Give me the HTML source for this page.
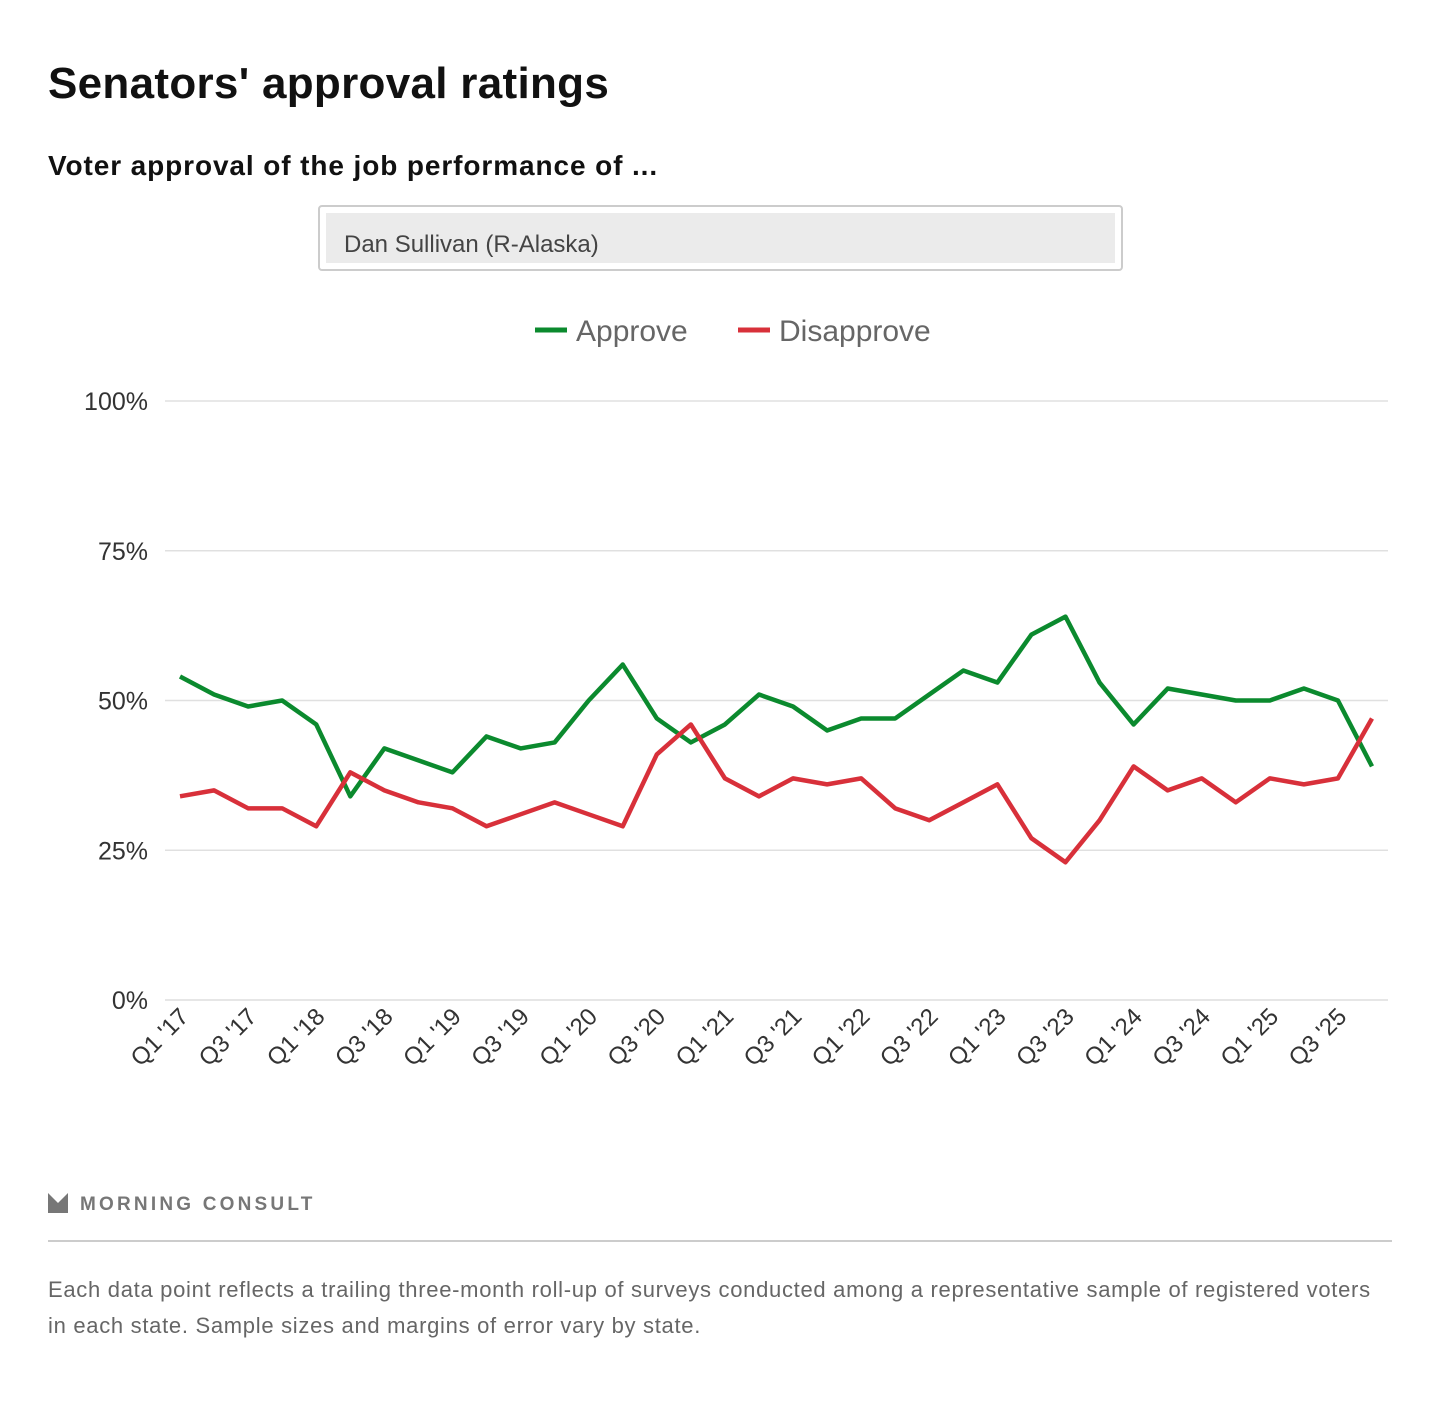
<!DOCTYPE html>
<html><head><meta charset="utf-8"><style>
body{margin:0;background:#fff;font-family:"Liberation Sans",sans-serif;}
#wrap{position:relative;width:1440px;height:1412px;}
h1{position:absolute;left:48px;top:59px;margin:0;font-size:44px;font-weight:bold;color:#111;letter-spacing:0.3px;}
h2{position:absolute;left:48px;top:150px;margin:0;font-size:28px;font-weight:bold;color:#111;letter-spacing:0.9px;}
.sel{position:absolute;left:318px;top:205px;width:805px;height:66px;border:2px solid #ccc;border-radius:4px;box-sizing:border-box;}
.sel div{position:absolute;left:6px;top:6px;right:6px;bottom:6px;background:#ebebeb;font-size:24px;color:#444;padding:18px 0 0 18px;box-sizing:border-box;}
.foot{position:absolute;left:48px;top:1272px;width:1335px;font-size:22px;letter-spacing:0.7px;line-height:36px;color:#666;}
</style></head><body><div id="wrap">
<h1>Senators' approval ratings</h1>
<h2>Voter approval of the job performance of ...</h2>
<div class="sel"><div>Dan Sullivan (R-Alaska)</div></div>
<svg id="chart" width="1440" height="1412" style="position:absolute;left:0;top:0"></svg>
<div style="position:absolute;left:48px;top:1240px;width:1344px;height:2px;background:#ccc"></div>
<div class="foot">Each data point reflects a trailing three-month roll-up of surveys conducted among a representative sample of registered voters in each state. Sample sizes and margins of error vary by state.</div>
</div>
<script>
const quarters=[];for(let y=17;y<=25;y++)for(let q=1;q<=4;q++)quarters.push("Q"+q+" '"+y);
const approve=[54,51,49,50,46,34,42,40,38,44,42,43,50,56,47,43,46,51,49,45,47,47,51,55,53,61,64,53,46,52,51,50,50,52,50,39];
const disapprove=[34,35,32,32,29,38,35,33,32,29,31,33,31,29,41,46,37,34,37,36,37,32,30,33,36,27,23,30,39,35,37,33,37,36,37,47];
const yTicks=[0,25,50,75,100];
const NS="http://www.w3.org/2000/svg",svg=document.getElementById('chart');
const x=i=>180+i*(1372-180)/35, y=v=>1000-v*5.99;
function mk(t,a,p){const e=document.createElementNS(NS,t);for(const k in a)e.setAttribute(k,a[k]);(p||svg).appendChild(e);return e;}
yTicks.forEach(v=>{
 const l=mk('line',{x1:165,x2:1388,y1:y(v),y2:y(v),stroke:v?'#e0e0e0':'#ddd','stroke-width':1.5});
 
 
 const t=mk('text',{x:148,y:y(v)+9,'text-anchor':'end','font-size':25,fill:'#333'});t.textContent=v+'%';
 
 
});
quarters.forEach((q,i)=>{if(i%2||i>=35)return;
 const t=mk('text',{transform:`translate(${x(i)+10},${1018}) rotate(-45)`,'text-anchor':'end','font-size':24,fill:'#333'});t.textContent=q;
 
 
});
[[approve,'#0b8a2e','approve'],[disapprove,'#d8303a','disapprove']].forEach(([d,c,n])=>{
 const p=mk('path',{d:d.map((v,i)=>(i?'L':'M')+x(i)+','+y(v)).join(''),fill:'none',stroke:c,'stroke-width':4.5,'stroke-linejoin':'round'});
 
 
});
[['Approve','#0b8a2e',535],['Disapprove','#d8303a',738]].forEach(([n,c,lx])=>{
 const g=mk('g',{});
 
 
 mk('line',{x1:lx,x2:lx+32,y1:330,y2:330,stroke:c,'stroke-width':5},g);
 const t=mk('text',{x:lx+41,y:341,'font-size':30,fill:'#666'},g);t.textContent=n;
});
const lg=mk('g',{});


mk('path',{d:'M48,1193 L58,1203 L68,1193 L68,1213 L48,1213 Z',fill:'#777'},lg);
const lt=mk('text',{x:80,y:1210,'font-size':19,'font-weight':'bold','letter-spacing':'3.2',fill:'#777'},lg);lt.textContent='MORNING CONSULT';
</script></body></html>
